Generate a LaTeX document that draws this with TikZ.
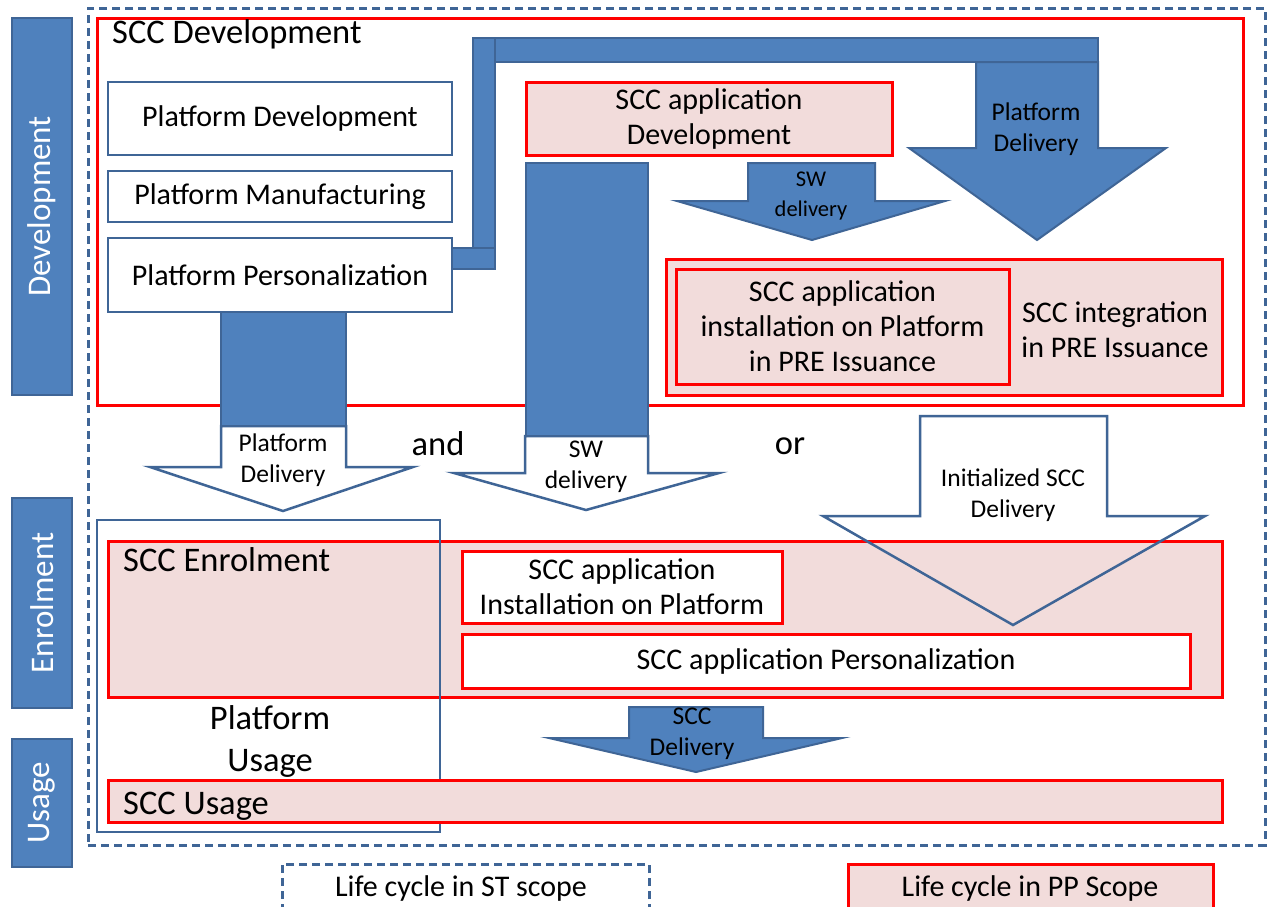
\documentclass[tikz,border=0pt]{standalone}
\usepackage{fontspec}
\setmainfont{Carlito}
\definecolor{bfill}{HTML}{4F81BD}
\definecolor{bline}{HTML}{3F6596}
\definecolor{pinkc}{HTML}{F2DCDB}
\definecolor{pred}{HTML}{FF0000}
\newcommand\ftitle{\fontsize{34.5}{40}\selectfont}
\newcommand\fmain{\fontsize{30}{35}\selectfont}
\newcommand\farr{\fontsize{25.5}{31}\selectfont}
\newcommand\fsm{\fontsize{22.5}{30}\selectfont}
\newcommand\fside{\fontsize{33}{36}\selectfont}
% name, x1, y1, x2, y2, style, text
\newcommand\bx[7]{\node[#6, anchor=north west, inner sep=0pt, outer sep=0pt,
  minimum width={#4pt-#2pt}, minimum height={#5pt-#3pt}] (#1) at (#2,#3) {#7};}
\begin{document}
\begin{tikzpicture}[x=1pt,y=-1pt,
  side/.style={fill=bfill, draw=bline, line width=2pt},
  wbox/.style={draw=bline, line width=2.5pt, fill=white, align=center, font=\fmain},
  pbox/.style={draw=pred, line width=3pt, fill=pinkc, align=center, font=\fmain},
  rbox/.style={draw=pred, line width=3pt, fill=white, align=center, font=\fmain},
  blk/.style={fill=bfill, draw=bline, line width=2pt, line join=miter},
  warr/.style={fill=white, draw=bline, line width=2.5pt, line join=miter},
  oarr/.style={draw=bline, line width=2.5pt, line join=miter},
  stdash/.style={draw=bline, line width=3pt, dash pattern=on 8pt off 5pt},
  lbl/.style={align=center, inner sep=0pt}]
\useasboundingbox (0,0) rectangle (1273,906);
\fill[white] (0,0) rectangle (1273,906);

% side bars
\bx{sdev}{12}{18}{72}{395}{side}{}
\bx{senr}{12}{498}{72}{708}{side}{}
\bx{suse}{12}{739}{72}{867}{side}{}
\node[rotate=90, text=white, font=\fside] (tdev) at (sdev.center) {Development};
\node[rotate=90, text=white, font=\fside] (tenr) at (senr.center) {Enrolment};
\node[rotate=90, text=white, font=\fside] (tuse) at (suse.center) {Usage};

% ST scope
\bx{st}{88}{8}{1265}{845}{stdash}{}

% SCC development
\bx{sccdev}{97}{18}{1243}{405}{draw=pred, line width=3pt}{}
\node[anchor=base west, font=\ftitle, inner sep=0pt] (devtitle) at (112,43) {SCC Development};

\bx{pdev}{108}{82}{452}{155}{wbox}{Platform Development}
\bx{pman}{108}{171}{452}{222}{wbox}{Platform Manufacturing}
\bx{ppers}{108}{238}{452}{312}{wbox}{Platform Personalization}

% pipe to platform delivery
\bx{ptop}{473}{38}{1098}{62}{blk}{}
\bx{pvert}{473}{38}{495}{269}{blk}{}
\bx{pstub}{452}{248}{495}{269}{blk}{}
\draw[blk] (976,62) -- (1098,62) -- (1098,148) -- (1166,148) -- (1037,240)
  -- (909,148) -- (976,148) -- cycle;
\node[lbl, font=\farr] (pdel1) at (1036,129) {Platform\\Delivery};

\bx{appdev}{526}{82}{892}{155}{pbox}{SCC application\\Development}

% small SW delivery
\draw[blk] (748,163) -- (875,163) -- (875,201) -- (945,201) -- (812,240)
  -- (677,201) -- (748,201) -- cycle;
\node[lbl, font=\fsm] (swd1) at (811,196) {SW\\delivery};

% tall bar + SW delivery outlined arrow
\draw[warr] (525,436) -- (648,436) -- (648,473) -- (719,473) -- (586,510)
  -- (454,473) -- (525,473) -- cycle;
\bx{tall}{526}{163}{648}{436}{blk}{}
\node[lbl, font=\farr] (swd2) at (586,467) {SW\\delivery};

% left bar + Platform Delivery outlined arrow
\draw[warr] (221,426) -- (346,426) -- (346,467) -- (413,467) -- (283,511)
  -- (150,467) -- (221,467) -- cycle;
\bx{lbar}{221}{312}{346}{426}{blk}{}
\node[lbl, font=\farr] (pdel2) at (283,460) {Platform\\Delivery};

% integration
\bx{integ}{666}{259}{1222}{395}{pbox}{}
\bx{inst}{676}{269}{1009}{384}{pbox}{SCC application\\installation on Platform\\in PRE Issuance}
\node[lbl, font=\fmain] (integt) at (1115,330) {SCC integration\\in PRE Issuance};

\node[font=\ftitle, inner sep=0pt] (andt) at (438,444) {and};
\node[font=\ftitle, inner sep=0pt] (ort) at (790,446) {or};

% enrolment
\bx{enrol}{108}{541}{1222}{697}{pbox}{}
\node[anchor=base west, font=\ftitle, inner sep=0pt] (enrt) at (123,571) {SCC Enrolment};
\bx{instp}{462}{551}{782}{623}{rbox}{SCC application\\Installation on Platform}
\bx{pers}{462}{634}{1190}{688}{rbox}{SCC application Personalization}

\draw[oarr] (920,516) -- (920,416) -- (1107,416) -- (1107,516) -- (1205,516)
  -- (1013,625) -- (823,516) -- cycle;
\node[lbl, font=\farr] (initt) at (1013,495) {Initialized SCC\\Delivery};

% platform usage
\bx{pusage}{97}{520}{440}{832}{draw=bline, line width=2pt}{}
\node[lbl, font=\ftitle, align=center] (pust) at (270,741) {Platform\\[2pt]Usage};

% SCC delivery arrow
\draw[blk] (629,707) -- (763,707) -- (763,738) -- (842,738) -- (696,772)
  -- (549,738) -- (629,738) -- cycle;
\node[lbl, font=\farr] (sccdel) at (692,734) {SCC\\Delivery};

% usage
\bx{usage}{108}{780}{1222}{822}{pbox}{}
\node[anchor=base west, font=\ftitle, inner sep=0pt] (uset) at (123,814) {SCC Usage};

% legend
\bx{legst}{282}{864}{649}{922}{stdash, fill=white}{}
\node[font=\fmain, inner sep=0pt] (legstt) at (461,888) {Life cycle in ST scope};
\bx{legpp}{848}{864}{1213}{922}{draw=pred, line width=3pt, fill=pinkc}{}
\node[font=\fmain, inner sep=0pt] (legppt) at (1030,888) {Life cycle in PP Scope};
\end{tikzpicture}
\end{document}
